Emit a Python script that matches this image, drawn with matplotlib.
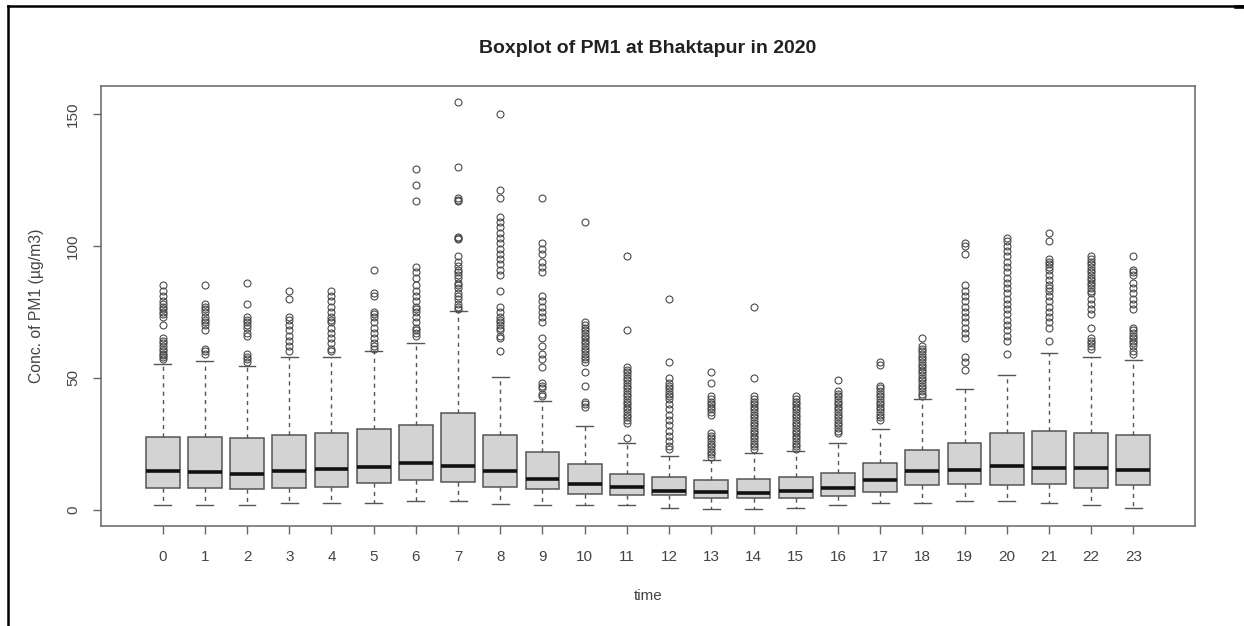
import matplotlib
matplotlib.use('Agg')
import matplotlib.pyplot as plt
from matplotlib.lines import Line2D

plt.rcParams['font.family'] = ['Liberation Sans', 'DejaVu Sans']

hours = list(range(24))
labels = [str(h) for h in hours]

# box stats (ug/m3)
whis_lo = [1.6, 1.6, 1.8, 2.6, 2.6, 2.6, 3.1, 3.1, 2.3, 1.7, 1.8, 1.6,
           0.8, 0.1, 0.1, 0.8, 1.6, 2.6, 2.6, 3.1, 3.1, 2.6, 1.6, 0.8]
q1 = [8.4, 8.4, 7.7, 8.4, 8.6, 10.2, 11.4, 10.5, 8.6, 7.8, 6.1, 5.4,
      5.4, 4.4, 4.4, 4.4, 5.1, 6.8, 9.2, 9.9, 9.2, 9.9, 8.4, 9.2]
medians = [14.5, 14.1, 13.7, 14.5, 15.6, 16.1, 17.6, 16.5, 14.5, 11.8, 9.9, 8.5,
           7.1, 6.8, 6.4, 7.1, 8.4, 11.1, 14.5, 15.2, 16.5, 15.7, 15.7, 15.2]
q3 = [27.6, 27.6, 27.3, 28.3, 29.0, 30.5, 32.0, 36.6, 28.3, 21.9, 17.4, 13.6,
      12.2, 11.1, 11.6, 12.2, 13.8, 17.6, 22.8, 25.2, 29.0, 29.8, 29.0, 28.3]
whis_hi = [55.4, 56.3, 54.6, 57.9, 57.9, 60.0, 63.3, 75.4, 50.3, 41.3, 31.9, 25.2,
           20.3, 19.0, 21.6, 22.2, 25.1, 30.5, 42.1, 45.6, 51.0, 59.5, 57.9, 56.7]

outliers = [
    [85, 83, 81, 79, 78, 77, 76, 75, 74, 73, 70, 65, 64, 63, 62, 61, 60, 59, 58.5, 58, 57],
    [85, 78, 77, 76, 75, 73, 72, 71, 70, 68, 61, 60, 59],
    [86, 78, 73, 72, 71, 70, 69, 67, 66, 59, 58, 57, 56],
    [83, 80, 73, 72, 70, 68, 66, 64, 62, 60],
    [83, 81, 79, 77, 75, 73, 72, 71, 69, 67, 65, 63, 61, 60],
    [91, 82, 81, 75, 74, 73, 71, 69, 67, 65, 63, 62, 61],
    [129, 123, 117, 92, 90, 88, 85, 83, 81, 79, 77, 76, 75, 73, 71, 69, 68, 67, 66],
    [154.4, 130, 118, 117.5, 117, 103.5, 103, 102.5, 96, 94, 92.5, 91, 90, 89, 88,
     86, 85, 84, 82, 81, 80, 78, 77, 76],
    [150, 121, 118, 111, 109, 107, 105, 103, 101, 99, 97, 95, 93, 91, 89, 83, 77,
     75, 73, 72, 71, 70, 69, 68, 66, 65, 60],
    [118, 101, 99, 97, 94, 92, 90, 81, 79, 77, 75, 73, 71, 65, 62, 59, 57, 54,
     48, 47, 46, 44, 43],
    [109, 71, 70, 69, 68, 67, 66, 65, 64, 63, 62, 61, 60, 59, 58, 57, 56, 52,
     47, 41, 40, 39],
    [96, 68, 54, 53, 52, 51, 50, 49, 48, 47, 46, 45, 44, 43, 42, 41, 40, 39,
     38, 37, 36, 35, 34, 33, 27],
    [80, 56, 50, 48, 47, 46, 45, 44, 43, 42, 40, 38, 36, 34, 32, 30, 28, 26, 24, 23],
    [52, 48, 43, 42, 41, 40, 39, 38, 37, 36, 29, 28, 27, 26, 25, 24, 23, 22, 21, 20],
    [77, 50, 43, 42, 41, 40, 39, 38, 37, 36, 35, 34, 33, 32, 31, 30, 29, 28,
     27, 26, 25, 24, 23],
    [43, 42, 41, 40, 39, 38, 37, 36, 35, 34, 33, 32, 31, 30, 29, 28, 27, 26,
     25, 24, 23],
    [49, 45, 44, 43, 42, 41, 40, 39, 38, 37, 36, 35, 34, 33, 32, 31, 30, 29],
    [56, 55, 47, 46, 45, 44, 43, 42, 41, 40, 39, 38, 37, 36, 35, 34],
    [65, 62, 61, 60, 59, 58, 57, 56, 55, 54, 53, 52, 51, 50, 49, 48, 47, 46,
     45, 44, 43],
    [101, 100, 97, 85, 83, 81, 79, 77, 75, 73, 71, 69, 67, 65, 58, 56, 53],
    [103, 102, 100, 98, 96, 94, 92, 90, 88, 86, 84, 82, 80, 78, 76, 74, 72,
     70, 68, 66, 64, 59],
    [105, 102, 95, 94, 93, 92, 91, 89, 87, 85, 84, 83, 81, 79, 77, 75, 73,
     71, 69, 64],
    [96, 95, 94, 93, 92, 91, 90, 89, 88, 87, 86, 85, 84, 83, 82, 80, 78, 76,
     74, 69, 65, 64, 63, 62, 61],
    [96, 91, 90, 89, 86, 84, 82, 80, 78, 76, 69, 68, 67, 66, 65, 64, 63, 62, 60, 59],
]

stats = []
for i in range(len(hours)):
    stats.append({'label': labels[i], 'whislo': whis_lo[i], 'q1': q1[i],
                  'med': medians[i], 'q3': q3[i], 'whishi': whis_hi[i],
                  'fliers': outliers[i]})

fig = plt.figure(figsize=(12.44, 6.26), dpi=100)
ax = fig.add_axes([0.0812, 0.1597, 0.8794, 0.7029])

edge = '#555555'
ax.bxp(stats, positions=hours, widths=0.8, capwidths=0.4, patch_artist=True,
       boxprops=dict(facecolor='#d3d3d3', edgecolor=edge, linewidth=1.1),
       medianprops=dict(color='#111111', linewidth=2.6, solid_capstyle='butt'),
       whiskerprops=dict(color=edge, linewidth=1.0, linestyle=(0, (3, 3))),
       capprops=dict(color=edge, linewidth=1.0),
       flierprops=dict(marker='o', markerfacecolor='none', markeredgecolor='#4a4a4a',
                       markersize=5.0, markeredgewidth=0.8, linestyle='none'))

ax.set_xlim(-1.46, 24.46)
ax.set_ylim(-6.2, 160.6)
ax.set_xticks(hours)
ax.set_xticklabels(labels)
ax.set_yticks([0, 50, 100, 150])
ax.set_yticklabels(['0', '50', '100', '150'], rotation=90, va='center')

for s in ax.spines.values():
    s.set_color('#666666')
    s.set_linewidth(1.1)
ax.tick_params(axis='both', colors='#666666', labelcolor='#444444', labelsize=11,
               length=6, width=1.0, direction='out')
ax.tick_params(axis='x', pad=11)
ax.tick_params(axis='y', pad=9)

ax.set_xlabel('time', fontsize=11, color='#444444', labelpad=18.5)
ax.set_ylabel('Conc. of PM1 (µg/m3)', fontsize=11.3, color='#444444', labelpad=16)
ax.set_title('Boxplot of PM1 at Bhaktapur in 2020', fontsize=14, fontweight='bold',
             color='#222222', pad=23.5)

# frame lines of the surrounding cell
fig.add_artist(Line2D([8 / 1244, 8 / 1244], [0, 1 - 6 / 626], transform=fig.transFigure,
                      color='black', linewidth=1.8))
fig.add_artist(Line2D([8 / 1244, 1.0], [1 - 6 / 626, 1 - 6 / 626],
                      transform=fig.transFigure, color='black', linewidth=1.8))
fig.add_artist(Line2D([1236 / 1244, 1.0], [1 - 6.7 / 626, 1 - 6.7 / 626],
                      transform=fig.transFigure, color='black', linewidth=2.6))

fig.savefig('out.png', dpi=100)
